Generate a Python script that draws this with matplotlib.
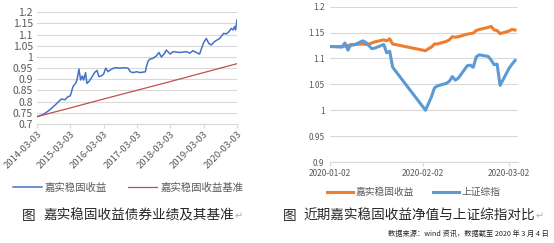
import matplotlib
matplotlib.use("Agg")
import matplotlib.pyplot as plt
from matplotlib.text import Annotation
import pandas as pd

plt.rcParams['font.family'] = ['Noto Sans CJK SC', 'DejaVu Sans']

# left chart: fund NAV and its benchmark, 2014-03 .. 2020-03
long_dates = [
    '2014-03-03', '2014-05-08', '2014-07-20', '2014-10-01', '2014-11-25', '2015-01-01',
    '2015-02-05', '2015-03-03', '2015-04-01', '2015-04-30', '2015-05-15', '2015-06-06',
    '2015-06-24', '2015-07-12', '2015-07-27', '2015-08-17', '2015-09-01', '2015-09-23',
    '2015-10-18', '2015-11-24', '2015-12-20', '2016-01-10', '2016-02-05', '2016-03-03',
    '2016-03-25', '2016-04-20', '2016-05-26', '2016-07-02', '2016-08-26', '2016-10-20',
    '2016-11-25', '2016-12-20', '2017-01-18', '2017-03-03', '2017-04-01', '2017-05-08',
    '2017-06-03', '2017-06-13', '2017-07-01', '2017-07-20', '2017-08-26', '2017-10-01',
    '2017-10-30', '2017-11-25', '2018-01-01', '2018-01-18', '2018-03-03', '2018-04-01',
    '2018-06-13', '2018-08-26', '2018-10-01', '2018-11-06', '2018-12-13', '2019-01-18',
    '2019-02-05', '2019-03-03', '2019-04-01', '2019-04-30', '2019-05-26', '2019-07-01',
    '2019-08-26', '2019-10-10', '2019-11-06', '2019-12-05', '2019-12-31', '2020-01-18',
    '2020-02-05', '2020-02-16', '2020-03-03',
]
long_fund = [
    0.733, 0.742, 0.763, 0.790, 0.812, 0.808,
    0.822, 0.826, 0.867, 0.882, 0.897, 0.946,
    0.897, 0.915, 0.897, 0.930, 0.882, 0.890,
    0.905, 0.930, 0.940, 0.912, 0.915, 0.924,
    0.950, 0.934, 0.945, 0.952, 0.950, 0.952,
    0.950, 0.934, 0.930, 0.934, 0.930, 0.932,
    0.934, 0.955, 0.980, 0.990, 0.994, 1.005,
    1.020, 1.000, 1.017, 1.031, 1.013, 1.024,
    1.020, 1.024, 1.017, 1.028, 1.020, 1.013,
    1.034, 1.064, 1.083, 1.060, 1.054, 1.069,
    1.083, 1.106, 1.103, 1.113, 1.128, 1.121,
    1.136, 1.121, 1.166,
]
bench_dates = ['2014-03-03', '2015-03-03', '2016-03-03', '2017-03-03',
               '2018-03-03', '2019-03-03', '2020-03-03']
bench_vals = [0.733, 0.772, 0.812, 0.851, 0.890, 0.930, 0.970]
long_ticks = ['2014-03-03', '2015-03-03', '2016-03-03', '2017-03-03',
              '2018-03-03', '2019-03-03', '2020-03-03']

# right chart: recent fund NAV vs Shanghai composite (rescaled), trading days
short_dates = [
    '2020-01-02', '2020-01-03', '2020-01-06', '2020-01-07', '2020-01-08', '2020-01-09',
    '2020-01-10', '2020-01-13', '2020-01-14', '2020-01-15', '2020-01-16', '2020-01-17',
    '2020-01-20', '2020-01-21', '2020-01-22', '2020-01-23', '2020-02-03', '2020-02-04',
    '2020-02-05', '2020-02-06', '2020-02-07', '2020-02-10', '2020-02-11', '2020-02-12',
    '2020-02-13', '2020-02-14', '2020-02-17', '2020-02-18', '2020-02-19', '2020-02-20',
    '2020-02-21', '2020-02-24', '2020-02-25', '2020-02-26', '2020-02-27', '2020-02-28',
    '2020-03-02', '2020-03-03', '2020-03-04',
]
short_fund = [
    1.123, 1.123, 1.123, 1.124, 1.125, 1.126,
    1.127, 1.128, 1.127, 1.128, 1.130, 1.132,
    1.136, 1.134, 1.138, 1.128, 1.115, 1.119,
    1.122, 1.128, 1.128, 1.133, 1.136, 1.142,
    1.141, 1.142, 1.147, 1.148, 1.149, 1.154,
    1.156, 1.160, 1.162, 1.155, 1.154, 1.148,
    1.153, 1.156, 1.155,
]
short_index = [
    1.123, 1.123, 1.122, 1.130, 1.116, 1.127,
    1.126, 1.134, 1.131, 1.125, 1.119, 1.120,
    1.127, 1.111, 1.114, 1.083, 1.000, 1.013,
    1.026, 1.043, 1.047, 1.052, 1.056, 1.065,
    1.058, 1.062, 1.086, 1.087, 1.083, 1.103,
    1.107, 1.104, 1.097, 1.088, 1.089, 1.048,
    1.081, 1.089, 1.096,
]
short_ticks = ['2020-01-02', '2020-02-02', '2020-03-02']

grid_c = '#d9d9d9'
tick_c = '#595959'
text_c = '#262626'
mark_c = '#b0b0b0'

fig = plt.figure(figsize=(5.54, 2.43), dpi=100)
W, H = 554.0, 243.0


def return_mark(txt, size):
    # word-style paragraph mark right after a caption
    a = Annotation('↵', xy=(1, 0.5), xycoords=txt, xytext=(0.5, 0), textcoords='offset points',
                   va='center', ha='left', fontsize=size, color=mark_c)
    fig.add_artist(a)


# ---- left chart
ax1 = fig.add_axes([37 / W, 1 - 124 / H, 200 / W, (124 - 12.3) / H])
ax1.plot(pd.to_datetime(long_dates), long_fund, color='#4472c4', lw=1.1, label='嘉实稳固收益')
ax1.plot(pd.to_datetime(bench_dates), bench_vals, color='#c0504d', lw=0.9, label='嘉实稳固收益基准')
ax1.set_xlim(pd.Timestamp('2014-03-03'), pd.Timestamp('2020-03-03'))
ax1.set_ylim(0.7, 1.2)
ax1.set_yticks([0.7, 0.75, 0.8, 0.85, 0.9, 0.95, 1.0, 1.05, 1.1, 1.15, 1.2])
ax1.set_yticklabels(['0.7', '0.75', '0.8', '0.85', '0.9', '0.95', '1', '1.05', '1.1', '1.15', '1.2'])
ax1.set_xticks(pd.to_datetime(long_ticks))
ax1.set_xticklabels(long_ticks, rotation=45, ha='right', va='top', rotation_mode='anchor')
ax1.grid(axis='y', color=grid_c, lw=0.8)
ax1.set_axisbelow(True)
for s in ['left', 'right', 'top']:
    ax1.spines[s].set_visible(False)
ax1.spines['bottom'].set_color(grid_c)
ax1.tick_params(axis='y', length=0, labelsize=7.5, colors=tick_c, pad=3)
ax1.tick_params(axis='x', length=3, color=grid_c, labelsize=6.8, labelcolor=tick_c, pad=1)
fig.legend(*ax1.get_legend_handles_labels(), loc='center', bbox_to_anchor=(128 / W, 1 - 188 / H),
           ncol=2, frameon=False, fontsize=7.5, handlelength=2.8, columnspacing=2.0,
           handletextpad=0.3, labelcolor=tick_c)

# ---- right chart
ax2 = fig.add_axes([330 / W, 1 - 162 / H, 188 / W, (162 - 6.7) / H])
sd = pd.to_datetime(short_dates)
ax2.plot(sd, short_fund, color='#ed7d31', lw=2.2, label='嘉实稳固收益')
ax2.plot(sd, short_index, color='#5b9bd5', lw=2.2, label='上证综指')
ax2.set_xlim(pd.Timestamp('2020-01-02'), pd.Timestamp('2020-03-05'))
ax2.set_ylim(0.9, 1.2)
ax2.set_yticks([0.9, 0.95, 1.0, 1.05, 1.1, 1.15, 1.2])
ax2.set_yticklabels(['0.9', '0.95', '1', '1.05', '1.1', '1.15', '1.2'])
ax2.set_xticks(pd.to_datetime(short_ticks))
ax2.set_xticklabels(short_ticks)
ax2.grid(axis='y', color=grid_c, lw=0.8)
ax2.set_axisbelow(True)
for s in ['left', 'right', 'top']:
    ax2.spines[s].set_visible(False)
ax2.spines['bottom'].set_color(grid_c)
ax2.tick_params(axis='y', length=0, labelsize=6, colors=tick_c, pad=4)
ax2.tick_params(axis='x', length=3, color=grid_c, labelsize=6, labelcolor=tick_c, pad=2)
fig.legend(*ax2.get_legend_handles_labels(), loc='center', bbox_to_anchor=(414 / W, 1 - 192 / H),
           ncol=2, frameon=False, fontsize=7, handlelength=2.6, columnspacing=2.0,
           handletextpad=0.3, labelcolor=tick_c)

# ---- captions
fig.text(22 / W, 1 - 216 / H, '图', fontsize=9.8, va='center', color=text_c)
cap1 = fig.text(43 / W, 1 - 216 / H, '嘉实稳固收益债券业绩及其基准', fontsize=9.8, va='center', color=text_c)
return_mark(cap1, 7)
fig.text(283 / W, 1 - 216 / H, '图', fontsize=9.8, va='center', color=text_c)
cap2 = fig.text(303 / W, 1 - 216 / H, '近期嘉实稳固收益净值与上证综指对比', fontsize=9.8, va='center', color=text_c)
return_mark(cap2, 7)
fig.text(549 / W, 1 - 234 / H, '数据来源：wind 资讯，数据截至 2020 年 3 月 4 日', fontsize=5.2,
         ha='right', va='center', color=text_c)

fig.savefig('out.png', dpi=100)
